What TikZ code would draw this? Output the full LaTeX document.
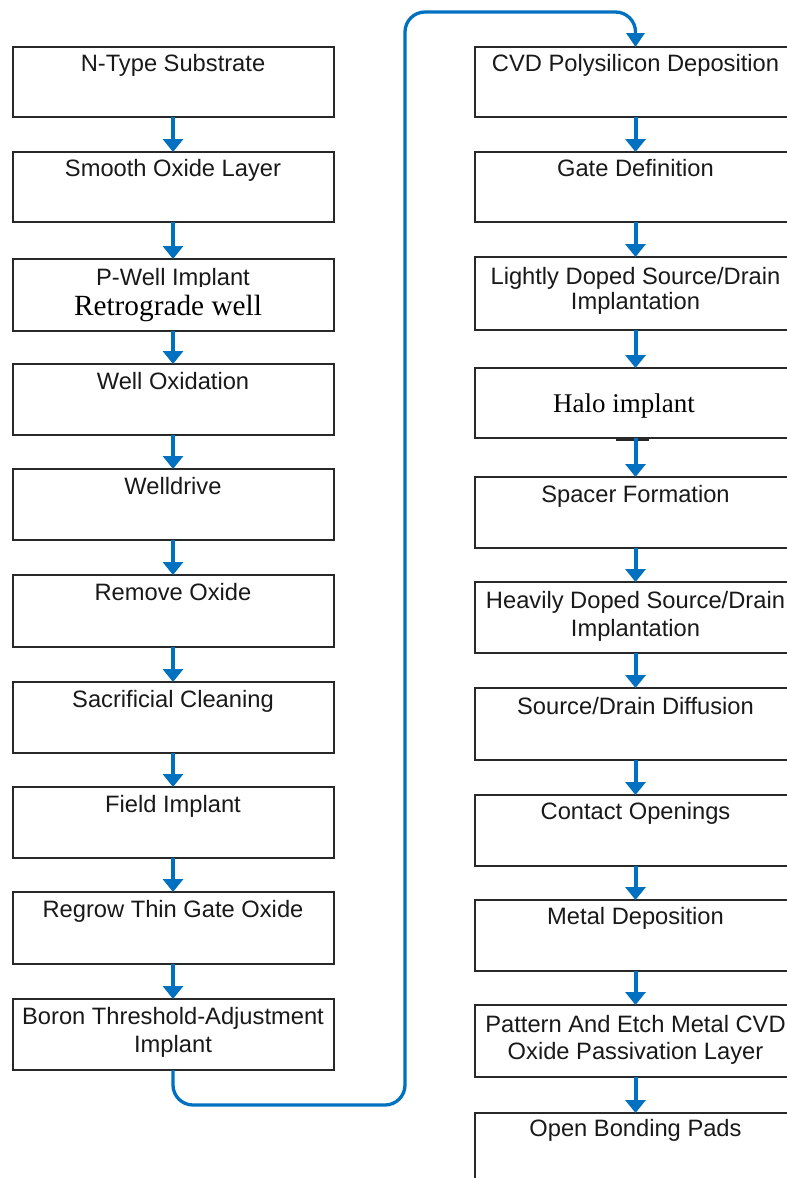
\documentclass[tikz,border=0pt]{standalone}
\usepackage{fontspec}
\setmainfont{Liberation Sans}
\newfontfamily\serifx{Liberation Serif}
\usetikzlibrary{arrows.meta}
\definecolor{flowblue}{RGB}{0,112,192}
\definecolor{boxline}{RGB}{40,40,40}
\begin{document}
\begin{tikzpicture}[x=1pt,y=-1pt,
  box/.style={draw=boxline, line width=2pt, fill=white, inner sep=0pt, outer sep=0pt, minimum width=321pt},
  txt/.style={anchor=base, inner sep=0pt, font=\fontsize{23.7}{27}\selectfont, text=black!90},
  sertxt/.style={anchor=base, inner xsep=3pt, inner ysep=0pt, font=\serifx\fontsize{29.3}{31}\selectfont, text=black},
  stepar/.style={draw=flowblue, line width=4pt, -{Triangle[width=20pt,length=13pt]}},
  loopar/.style={draw=flowblue, line width=3.3pt, rounded corners=20pt, -{Triangle[width=18pt,length=14pt]}}
]
\useasboundingbox (0,0) rectangle (787,1178);
\clip (0,0) rectangle (787,1178);
\fill[white] (0,0) rectangle (787,1178);

% left column
\node[box, minimum height=70pt] (L1) at (173,82) {};
\node[box, minimum height=70pt] (L2) at (173,187) {};
\node[box, minimum height=72pt] (L3) at (173,295) {};
\node[box, minimum height=71pt] (L4) at (173,399.5) {};
\node[box, minimum height=71pt] (L5) at (173,504.5) {};
\node[box, minimum height=72pt] (L6) at (173,611) {};
\node[box, minimum height=71pt] (L7) at (173,717.5) {};
\node[box, minimum height=71pt] (L8) at (173,822.5) {};
\node[box, minimum height=72pt] (L9) at (173,928) {};
\node[box, minimum height=71pt] (L10) at (173,1034.5) {};

% right column
\node[box, minimum height=70pt] (R1) at (635.5,82) {};
\node[box, minimum height=70pt] (R2) at (635.5,187) {};
\node[box, minimum height=73pt] (R3) at (635.5,293.5) {};
\node[box, minimum height=70pt] (R4) at (635.5,403) {};
\node[box, minimum height=71pt] (R5) at (635.5,512.5) {};
\node[box, minimum height=71pt] (R6) at (635.5,617.5) {};
\node[box, minimum height=72pt] (R7) at (635.5,724) {};
\node[box, minimum height=71pt] (R8) at (635.5,830.5) {};
\node[box, minimum height=71pt] (R9) at (635.5,935.5) {};
\node[box, minimum height=72pt] (R10) at (635.5,1041) {};
\node[box, minimum height=77pt] (R11) at (635.5,1151.5) {};

% left texts
\node[txt] (L1t) at (173,71) {N-Type Substrate};
\node[txt] (L2t) at (173,176) {Smooth Oxide Layer};
\node[txt] (L3t) at (173,285) {P-Well Implant};
\node[sertxt, fill=white, text height=28pt, text depth=4pt] (L3s) at (168,315) {Retrograde well};
\node[txt] (L4t) at (173,389) {Well Oxidation};
\node[txt] (L5t) at (173,494) {Welldrive};
\node[txt] (L6t) at (173,600) {Remove Oxide};
\node[txt] (L7t) at (173,707) {Sacrificial Cleaning};
\node[txt] (L8t) at (173,812) {Field Implant};
\node[txt] (L9t) at (173,917) {Regrow Thin Gate Oxide};
\node[txt] (L10t) at (173,1024) {Boron Threshold-Adjustment};
\node[txt] (L10u) at (173,1052) {Implant};

% right texts
\node[txt] (R1t) at (635.5,71) {CVD Polysilicon Deposition};
\node[txt] (R2t) at (635.5,176) {Gate Definition};
\node[txt] (R3t) at (635.5,284) {Lightly Doped Source/Drain};
\node[txt] (R3u) at (635.5,309) {Implantation};
\node[sertxt, font=\serifx\fontsize{27}{29}\selectfont] (R4t) at (624,412) {Halo implant};
\node[txt] (R5t) at (635.5,502) {Spacer Formation};
\node[txt] (R6t) at (635.5,608) {Heavily Doped Source/Drain};
\node[txt] (R6u) at (635.5,636) {Implantation};
\node[txt] (R7t) at (635.5,714) {Source/Drain Diffusion};
\node[txt] (R8t) at (635.5,819) {Contact Openings};
\node[txt] (R9t) at (635.5,924) {Metal Deposition};
\node[txt] (R10t) at (635.5,1032) {Pattern And Etch Metal CVD};
\node[txt] (R10u) at (635.5,1059) {Oxide Passivation Layer};
\node[txt] (R11t) at (635.5,1136) {Open Bonding Pads};

% small dark mark under the halo box
\draw[line width=2.5pt, boxline] (616,440) -- (649,440);

% arrows
\draw[stepar] (L1.south) -- (L2.north);
\draw[stepar] (L2.south) -- (L3.north);
\draw[stepar] (L3.south) -- (L4.north);
\draw[stepar] (L4.south) -- (L5.north);
\draw[stepar] (L5.south) -- (L6.north);
\draw[stepar] (L6.south) -- (L7.north);
\draw[stepar] (L7.south) -- (L8.north);
\draw[stepar] (L8.south) -- (L9.north);
\draw[stepar] (L9.south) -- (L10.north);

\draw[stepar] (R1.south) -- (R2.north);
\draw[stepar] (R2.south) -- (R3.north);
\draw[stepar] (R3.south) -- (R4.north);
\draw[stepar] (R4.south) -- (R5.north);
\draw[stepar] (R5.south) -- (R6.north);
\draw[stepar] (R6.south) -- (R7.north);
\draw[stepar] (R7.south) -- (R8.north);
\draw[stepar] (R8.south) -- (R9.north);
\draw[stepar] (R9.south) -- (R10.north);
\draw[stepar] (R10.south) -- (R11.north);

% loop connector
\draw[loopar] (L10.south) |- (405,1105) |- (R1.north |- 0,12) -- (R1.north);
\end{tikzpicture}
\end{document}
